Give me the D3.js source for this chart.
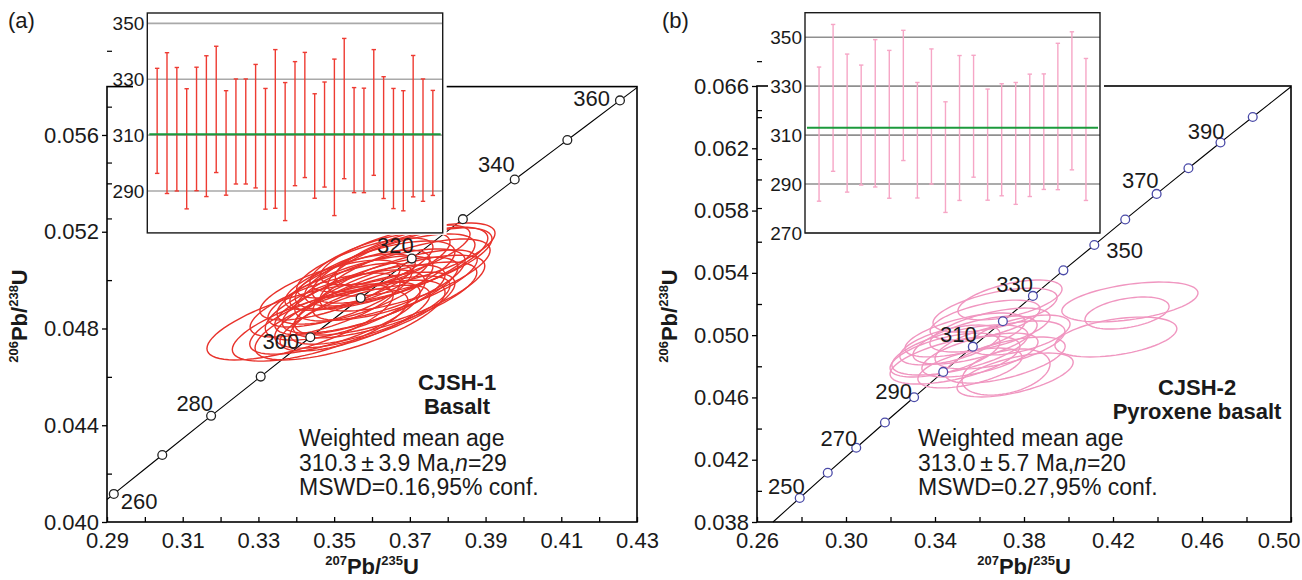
<!DOCTYPE html>
<html>
<head>
<meta charset="utf-8">
<script src="https://cdn.jsdelivr.net/npm/d3@7"></script>
<style>
  body { margin: 0; background: #fff; }
  text { font-family: "Liberation Sans", Arial, sans-serif; }
</style>
</head>
<body>
<svg id="chart" width="1302" height="580"></svg>
<script>
// ---- panel (a) CJSH-1 basalt ----
const aXTicks = [0.29, 0.31, 0.33, 0.35, 0.37, 0.39, 0.41, 0.43];
const aXMinor = [0.30, 0.32, 0.34, 0.36, 0.38, 0.40, 0.42];
const aYTicks = [0.040, 0.044, 0.048, 0.052, 0.056];
const aYMinor = [0.042, 0.046, 0.050, 0.054];

const aConcAge = [260, 270, 280, 290, 300, 310, 320, 330, 340, 350, 360];
const aConcX = [0.2918, 0.3046, 0.3175, 0.3306, 0.3437, 0.3570, 0.3705, 0.3840, 0.3977, 0.4116, 0.4255];
const aConcY = [0.04116, 0.04277, 0.04439, 0.04601, 0.04764, 0.04926, 0.05089, 0.05252, 0.05416, 0.05579, 0.05743];
const aConcEnds = [[0.29, 0.04093], [0.43, 0.05796]];
const aConcLabels = [260, 280, 300, 320, 340, 360];

const aEllX = [0.3410, 0.3463, 0.3502, 0.3542, 0.3529, 0.3568, 0.3555, 0.3595, 0.3581, 0.3621, 0.3634, 0.3608, 0.3647, 0.3674, 0.3687,
               0.3661, 0.3700, 0.3621, 0.3568, 0.3515, 0.3476, 0.3595, 0.3542, 0.3661, 0.3714, 0.3581, 0.3647, 0.3489, 0.3555];
const aEllY = [0.04827, 0.04814, 0.04843, 0.04835, 0.04897, 0.04918, 0.04959, 0.04938, 0.04876, 0.04980, 0.04918, 0.05021, 0.05042, 0.05062, 0.05021,
               0.04980, 0.05075, 0.05075, 0.05000, 0.04938, 0.04897, 0.04876, 0.04992, 0.05104, 0.05104, 0.05050, 0.04938, 0.04959, 0.04843];
const aEllSx = [0.0246, 0.0232, 0.0225, 0.0251, 0.0211, 0.0225, 0.0206, 0.0232, 0.0238, 0.0225, 0.0243, 0.0211, 0.0225, 0.0232, 0.0225,
                0.0217, 0.0217, 0.0185, 0.0185, 0.0190, 0.0198, 0.0211, 0.0172, 0.0198, 0.0211, 0.0180, 0.0251, 0.0185, 0.0198];
const aEllSy = [0.00157, 0.00149, 0.00149, 0.00165, 0.00145, 0.00145, 0.00141, 0.00157, 0.00157, 0.00149, 0.00157, 0.00141, 0.00149, 0.00157, 0.00149,
                0.00145, 0.00141, 0.00124, 0.00124, 0.00132, 0.00132, 0.00141, 0.00116, 0.00124, 0.00132, 0.00124, 0.00165, 0.00124, 0.00136];
const aEllRho = [0.70, 0.68, 0.72, 0.70, 0.66, 0.71, 0.69, 0.73, 0.70, 0.68, 0.72, 0.67, 0.70, 0.71, 0.69,
                 0.72, 0.68, 0.66, 0.70, 0.71, 0.69, 0.72, 0.67, 0.70, 0.68, 0.70, 0.73, 0.69, 0.71];

const aBarAge = [315.1, 314.3, 312.1, 305.1, 312.2, 313.2, 319.2, 307.2, 311.3, 311.3, 313.2, 305.1, 312.2, 304.1, 314.1,
                 317.2, 306.1, 310.2, 309.2, 319.5, 308.2, 308.1, 318.1, 309.1, 305.2, 304.4, 313.2, 308.2, 307.2];
const aBarErr = [18.8, 25.2, 22.1, 21.5, 22.1, 25.2, 22.6, 18.7, 18.8, 18.8, 22.1, 21.6, 28.4, 24.7, 22.2,
                 22.4, 18.7, 18.8, 28.0, 25.1, 18.8, 18.7, 22.5, 21.8, 21.5, 21.5, 25.3, 21.9, 18.8];
const aMean = 310.3;
const aInsetTicks = [290, 310, 330, 350];
const aInsetMinor = [280, 300, 320, 340];

// ---- panel (b) CJSH-2 pyroxene basalt ----
const bXTicks = [0.26, 0.30, 0.34, 0.38, 0.42, 0.46, 0.50];
const bXMinor = [0.28, 0.32, 0.36, 0.40, 0.44, 0.48];
const bYTicks = [0.038, 0.042, 0.046, 0.050, 0.054, 0.058, 0.062, 0.066];
const bYMinor = [0.040, 0.044, 0.048, 0.052, 0.056, 0.060, 0.064];

const bConcAge = [250, 260, 270, 280, 290, 300, 310, 320, 330, 340, 350, 360, 370, 380, 390, 400];
const bConcX = [0.2792, 0.2918, 0.3046, 0.3175, 0.3306, 0.3437, 0.3570, 0.3705, 0.3840, 0.3977, 0.4116, 0.4255, 0.4396, 0.4539, 0.4683, 0.4828];
const bConcY = [0.03954, 0.04116, 0.04277, 0.04439, 0.04601, 0.04764, 0.04926, 0.05089, 0.05252, 0.05416, 0.05579, 0.05743, 0.05907, 0.06072, 0.06237, 0.06401];
const bConcEnds = [[0.2672, 0.038], [0.50, 0.06595]];
const bConcLabels = [250, 270, 290, 310, 330, 350, 370, 390];

const bEllX = [0.3737, 0.3512, 0.3490, 0.3580, 0.3647, 0.3692, 0.3535, 0.3445, 0.3625, 0.3760,
               0.3715, 0.3782, 0.3467, 0.3602, 0.4276, 0.4263, 0.4213, 0.3719, 0.3670, 0.3557];
const bEllY = [0.05226, 0.04905, 0.04840, 0.04969, 0.05033, 0.04937, 0.05001, 0.04872, 0.05097, 0.04744,
               0.04840, 0.05001, 0.04937, 0.04872, 0.05213, 0.05142, 0.04988, 0.04763, 0.05161, 0.04789];
const bEllSx = [0.0234, 0.0306, 0.0292, 0.0279, 0.0270, 0.0292, 0.0270, 0.0247, 0.0247, 0.0261,
                0.0270, 0.0225, 0.0225, 0.0261, 0.0306, 0.0189, 0.0274, 0.0198, 0.0279, 0.0234];
const bEllSy = [0.00128, 0.00161, 0.00154, 0.00154, 0.00141, 0.00154, 0.00141, 0.00141, 0.00128, 0.00141,
                0.00148, 0.00128, 0.00128, 0.00141, 0.00128, 0.00103, 0.00128, 0.00148, 0.00141, 0.00128];
const bEllRho = [0.55, 0.60, 0.58, 0.62, 0.60, 0.57, 0.61, 0.59, 0.56, 0.58,
                 0.60, 0.55, 0.57, 0.60, 0.45, 0.40, 0.42, 0.35, 0.58, 0.55];

const bBarAge = [310.4, 325.2, 314.9, 314.1, 318.9, 314.4, 326.2, 307.9, 317.6, 301.0,
                 312.9, 317.7, 306.1, 308.1, 306.6, 309.9, 311.4, 317.6, 324.0, 312.3];
const bBarErr = [27.4, 30.0, 28.2, 24.5, 30.1, 30.2, 26.6, 23.6, 27.6, 22.6,
                 29.6, 24.9, 22.7, 22.9, 24.9, 25.0, 23.6, 29.9, 28.2, 29.0];
const bMean = 313.0;
const bInsetTicks = [270, 290, 310, 330, 350];
const bInsetMinor = [280, 300, 320, 340];

const FONT = '"Liberation Sans", Arial, sans-serif';
const svg = d3.select("#chart");

function styleAxis(sel) {
  sel.attr("font-family", FONT).attr("font-size", 22);
  sel.select(".domain").remove();
  sel.selectAll("line").attr("stroke", "#000").attr("stroke-width", 1.3);
  sel.selectAll("text").attr("fill", "#1a1a1a");
}

function drawPanel(p) {
  const g = svg.append("g");
  const x = d3.scaleLinear().domain(p.xDomain).range(p.xRange);
  const y = d3.scaleLinear().domain(p.yDomain).range(p.yRange);
  const [x0, x1] = p.xRange, [y1, y0] = p.yRange;

  // axes
  const xa = g.append("g").attr("transform", `translate(0,${y1})`)
    .call(d3.axisBottom(x).tickValues(p.xTicks).tickSize(-5).tickPadding(10).tickFormat(d3.format(".2f")))
    .call(styleAxis);
  xa.selectAll(".tick text").filter(d => d === p.xDomain[1] && p.lastShift)
    .attr("text-anchor", "end").attr("x", p.lastShift);
  g.append("g").attr("transform", `translate(0,${y1})`)
    .call(d3.axisBottom(x).tickValues(p.xMinor).tickSize(-5).tickFormat(""))
    .call(styleAxis);
  g.append("g").attr("transform", `translate(${x0},0)`)
    .call(d3.axisLeft(y).tickValues(p.yTicks).tickSize(5).tickPadding(3).tickFormat(d3.format(".3f")))
    .call(styleAxis);
  g.append("g").attr("transform", `translate(${x0},0)`)
    .call(d3.axisLeft(y).tickValues(p.yMinor).tickSize(-5).tickFormat(""))
    .call(styleAxis);

  // frame
  g.append("rect").attr("x", x0).attr("y", y0).attr("width", x1 - x0).attr("height", y1 - y0)
    .attr("fill", "none").attr("stroke", "#000").attr("stroke-width", 1.6);

  // concordia curve
  const pts = [p.concEnds[0]].concat(p.concAge.map((a, i) => [p.concX[i], p.concY[i]]), [p.concEnds[1]]);
  g.append("path").attr("d", d3.line().x(d => x(d[0])).y(d => y(d[1])).curve(d3.curveCatmullRom)(pts))
    .attr("fill", "none").attr("stroke", "#000").attr("stroke-width", 1.1);

  // error ellipses
  const steps = d3.range(0, 73).map(k => k / 72 * 2 * Math.PI);
  p.ellX.forEach((cx, i) => {
    const sx = p.ellSx[i], sy = p.ellSy[i], r = p.ellRho[i];
    const ring = steps.map(t => [cx + sx * Math.cos(t),
      p.ellY[i] + sy * (r * Math.cos(t) + Math.sqrt(1 - r * r) * Math.sin(t))]);
    g.append("path").attr("d", d3.line().x(d => x(d[0])).y(d => y(d[1])).curve(d3.curveLinearClosed)(ring))
      .attr("fill", "none").attr("stroke", p.ellColor).attr("stroke-width", 1.4);
  });

  // age markers
  g.selectAll("circle.age").data(p.concAge).join("circle")
    .attr("cx", (a, i) => x(p.concX[i])).attr("cy", (a, i) => y(p.concY[i])).attr("r", 4.4)
    .attr("fill", "#fff").attr("stroke", p.markColor).attr("stroke-width", 1.3);

  p.concLabels.forEach(a => {
    const i = p.concAge.indexOf(a);
    const o = p.labelPlace[a];
    g.append("text").attr("x", x(p.concX[i]) + o[1]).attr("y", y(p.concY[i]) + o[2])
      .attr("text-anchor", o[0]).attr("font-size", 22).attr("fill", "#1a1a1a").text(a);
  });

  // sample name and statistics
  p.name.forEach((t, k) => {
    g.append("text").attr("x", p.nameX).attr("y", p.nameY + k * 24).attr("text-anchor", "middle")
      .attr("font-size", 22).attr("font-weight", "bold").attr("fill", "#1a1a1a").text(t);
  });
  const st = g.append("text").attr("x", p.statX).attr("y", p.statY).attr("font-size", 23).attr("fill", "#1a1a1a");
  st.append("tspan").attr("x", p.statX).text("Weighted mean age");
  const l2 = st.append("tspan").attr("x", p.statX).attr("dy", 24.5);
  l2.append("tspan").text(p.stat[0]);
  l2.append("tspan").attr("font-style", "italic").text("n");
  l2.append("tspan").text(p.stat[1]);
  st.append("tspan").attr("x", p.statX).attr("dy", 24.5).text(p.stat[2]);

  // axis titles
  const xt = g.append("text").attr("x", (x0 + x1) / 2).attr("y", 574).attr("text-anchor", "middle")
    .attr("font-weight", "bold").attr("fill", "#1a1a1a");
  xt.append("tspan").attr("font-size", 13).attr("dy", -9).text("207");
  xt.append("tspan").attr("font-size", 22).attr("dy", 9).text("Pb/");
  xt.append("tspan").attr("font-size", 13).attr("dy", -9).text("235");
  xt.append("tspan").attr("font-size", 22).attr("dy", 9).text("U");

  const yt = g.append("text").attr("transform", `translate(${p.yTitleX},${p.yTitleY}) rotate(-90)`)
    .attr("text-anchor", "middle").attr("font-weight", "bold").attr("fill", "#1a1a1a");
  yt.append("tspan").attr("font-size", 13).attr("dy", -9).text("206");
  yt.append("tspan").attr("font-size", 22).attr("dy", 9).text("Pb/");
  yt.append("tspan").attr("font-size", 13).attr("dy", -9).text("238");
  yt.append("tspan").attr("font-size", 22).attr("dy", 9).text("U");

  g.append("text").attr("x", p.tagX).attr("y", 28).attr("font-size", 22).attr("fill", "#1a1a1a").text(p.tag);

  // inset: weighted mean age plot
  const b = p.inset;
  const ix = d3.scaleLinear().domain([0, p.barAge.length + 1]).range([b.x0, b.x1]);
  const iy = d3.scaleLinear().domain(b.yDomain).range([b.y1, b.y0]);
  const ig = g.append("g");
  ig.append("rect").attr("x", b.maskX).attr("y", 0).attr("width", b.x1 + 4 - b.maskX).attr("height", b.y1 + 2)
    .attr("fill", "#fff");
  ig.selectAll("line.grid").data(b.ticks).join("line")
    .attr("x1", b.x0).attr("x2", b.x1).attr("y1", d => iy(d)).attr("y2", d => iy(d))
    .attr("stroke", b.gridColor).attr("stroke-width", 1.6);
  p.barAge.forEach((a, i) => {
    const cx = ix(i + 1), top = iy(a + p.barErr[i]), bot = iy(a - p.barErr[i]);
    ig.append("line").attr("x1", cx).attr("x2", cx).attr("y1", top).attr("y2", bot)
      .attr("stroke", p.barColor).attr("stroke-width", 1.4);
    [top, bot].forEach(v => ig.append("line").attr("x1", cx - 2.2).attr("x2", cx + 2.2).attr("y1", v).attr("y2", v)
      .attr("stroke", p.barColor).attr("stroke-width", 1.4));
  });
  ig.append("line").attr("x1", b.x0 + 2).attr("x2", b.x1 - 2).attr("y1", iy(p.mean)).attr("y2", iy(p.mean))
    .attr("stroke", "#1d9a3c").attr("stroke-width", 2.2);
  ig.append("rect").attr("x", b.x0).attr("y", b.y0).attr("width", b.x1 - b.x0).attr("height", b.y1 - b.y0)
    .attr("fill", "none").attr("stroke", "#1a1a1a").attr("stroke-width", 1.4);
  ig.selectAll("text.it").data(b.ticks).join("text")
    .attr("x", b.x0 - 3).attr("y", d => iy(d) + 7).attr("text-anchor", "end")
    .attr("font-size", 19).attr("fill", "#1a1a1a").text(d => d);
  ig.selectAll("line.im").data(b.minor).join("line")
    .attr("x1", x0).attr("x2", x0 + 5).attr("y1", d => iy(d)).attr("y2", d => iy(d))
    .attr("stroke", "#000").attr("stroke-width", 1.2);
}

drawPanel({
  tag: "(a)", tagX: 8,
  xDomain: [0.29, 0.43], xRange: [107, 637], yDomain: [0.040, 0.058], yRange: [522, 86.6],
  xTicks: aXTicks, xMinor: aXMinor, yTicks: aYTicks, yMinor: aYMinor, lastShift: 0,
  concAge: aConcAge, concX: aConcX, concY: aConcY, concEnds: aConcEnds, concLabels: aConcLabels,
  labelPlace: { 260: ["start", 7, 15], 280: ["end", 2, -5], 300: ["end", -11, 12], 320: ["end", 2, -6], 340: ["end", 0, -7], 360: ["end", -10, 6] },
  ellX: aEllX, ellY: aEllY, ellSx: aEllSx, ellSy: aEllSy, ellRho: aEllRho,
  ellColor: "#e8322b", markColor: "#222",
  name: ["CJSH-1", "Basalt"], nameX: 457, nameY: 390,
  stat: ["310.3\u2009\u00B1\u20093.9 Ma,", "=29", "MSWD=0.16,95% conf."], statX: 299, statY: 446,
  yTitleX: 27, yTitleY: 316,
  barAge: aBarAge, barErr: aBarErr, mean: aMean, barColor: "#ee3b32",
  inset: { x0: 147.3, x1: 442.7, y0: 13, y1: 232.9, yDomain: [275, 353.7], ticks: aInsetTicks, minor: aInsetMinor,
           maskX: 133, gridColor: "#a9a9a9" }
});

drawPanel({
  tag: "(b)", tagX: 662,
  xDomain: [0.26, 0.50], xRange: [757, 1291], yDomain: [0.038, 0.066], yRange: [522, 86],
  xTicks: bXTicks, xMinor: bXMinor, yTicks: bYTicks, yMinor: bYMinor, lastShift: 9,
  concAge: bConcAge, concX: bConcX, concY: bConcY, concEnds: bConcEnds, concLabels: bConcLabels,
  labelPlace: { 250: ["end", 5, -4], 270: ["end", 1, -2], 290: ["end", -2, 2], 310: ["end", 4, -5], 330: ["end", 0, -4],
                350: ["start", 12, 13], 370: ["end", 2, -6], 390: ["end", 4, -4] },
  ellX: bEllX, ellY: bEllY, ellSx: bEllSx, ellSy: bEllSy, ellRho: bEllRho,
  ellColor: "#f096c0", markColor: "#4a4aa8",
  name: ["CJSH-2", "Pyroxene basalt"], nameX: 1197, nameY: 395,
  stat: ["313.0\u2009\u00B1\u20095.7 Ma,", "=20", "MSWD=0.27,95% conf."], statX: 918, statY: 446,
  yTitleX: 677, yTitleY: 316,
  barAge: bBarAge, barErr: bBarErr, mean: bMean, barColor: "#f6a6c6",
  inset: { x0: 805, x1: 1100, y0: 12.7, y1: 233, yDomain: [270, 360], ticks: bInsetTicks, minor: bInsetMinor,
           maskX: 768, gridColor: "#8f8f8f" }
});
</script>
</body>
</html>
